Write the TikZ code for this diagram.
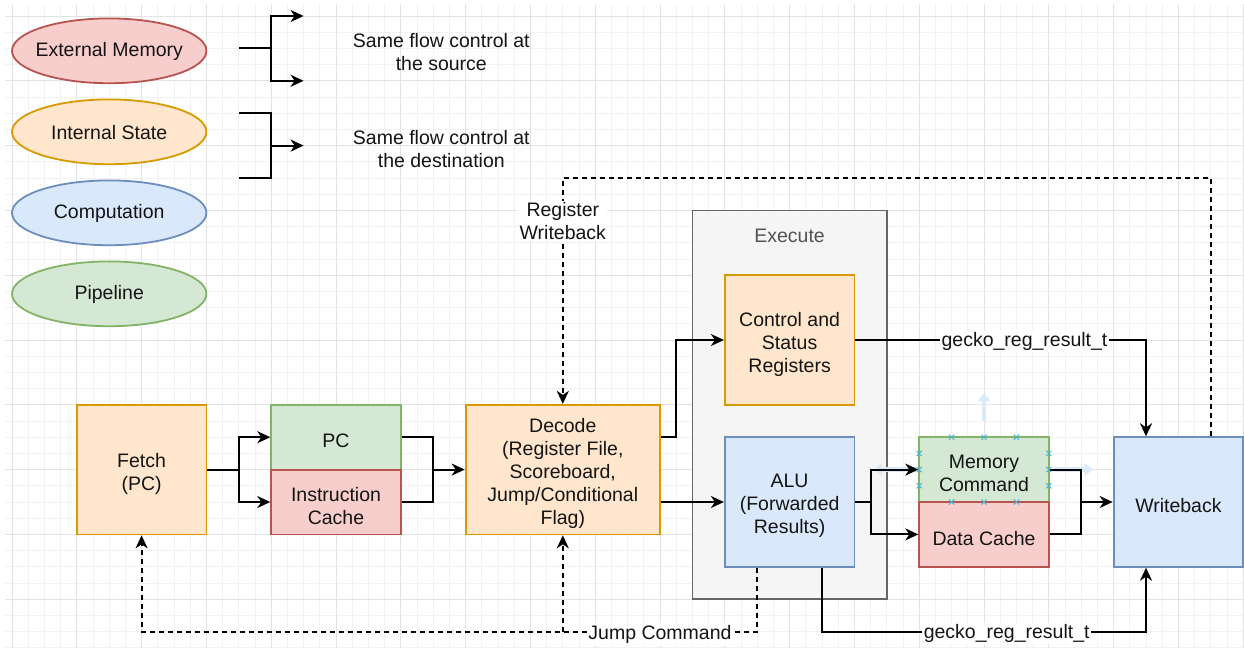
\documentclass[tikz,border=0pt]{standalone}
\usepackage{fontspec}
\setmainfont{Liberation Sans}
\usetikzlibrary{arrows.meta,shapes.geometric,calc}

\definecolor{redF}{HTML}{F8CECC}\definecolor{redD}{HTML}{B85450}
\definecolor{orgF}{HTML}{FFE6CC}\definecolor{orgD}{HTML}{D79B00}
\definecolor{bluF}{HTML}{DAE8FC}\definecolor{bluD}{HTML}{6C8EBF}
\definecolor{grnF}{HTML}{D5E8D4}\definecolor{grnD}{HTML}{82B366}
\definecolor{grayF}{HTML}{F5F5F5}\definecolor{grayD}{HTML}{666666}
\definecolor{ink}{HTML}{141414}
\definecolor{gridMinor}{HTML}{F2F2F2}
\definecolor{gridMajor}{HTML}{E3E3E3}
\definecolor{handle}{HTML}{45B4DC}
\definecolor{hover}{HTML}{D9EBF8}

\begin{document}
\begin{tikzpicture}[x=16.2pt,y=-16.2pt,
  txt/.style={font=\fontsize{19.5pt}{23pt}\selectfont, text=ink, align=center},
  box/.style={draw, line width=1.8pt, rectangle, inner sep=0pt},
  body/.style={label={[txt, yshift=-4pt]center:{#1}}},
  legtext/.style={label={[txt, yshift=-1pt]center:{#1}}},
  sq/.style={box, minimum width=129.6pt, minimum height=129.6pt},
  half/.style={box, minimum width=129.6pt, minimum height=64.8pt},
  legend/.style={ellipse, draw, line width=1.8pt, inner sep=0pt,
                 minimum width=194.4pt, minimum height=64.8pt},
  red/.style={fill=redF, draw=redD},
  org/.style={fill=orgF, draw=orgD},
  blu/.style={fill=bluF, draw=bluD},
  grn/.style={fill=grnF, draw=grnD},
  conn/.style={line width=2pt, draw=black},
  arr/.style={conn, -{Stealth[length=13pt,width=12pt,inset=4pt]}},
  dsh/.style={dash pattern=on 5pt off 4pt},
  tag/.style={txt, fill=white, inner sep=1.5pt},
]
% canvas and grid
\useasboundingbox (-0.7407,-0.9877) rectangle (76.049,38.951);
\fill[white] (-0.7407,-0.9877) rectangle (76.049,38.951);
\begin{scope}
  \clip (-0.43,-0.68) rectangle (76.049,38.951);
  \foreach \i in {-1,...,76} \draw[gridMinor, line width=0.9pt] (\i,-1) -- (\i,39);
  \foreach \j in {-1,...,39} \draw[gridMinor, line width=0.9pt] (-1,\j) -- (77,\j);
  \foreach \i in {0,4,...,76} \draw[gridMajor, line width=0.9pt] (\i,-1) -- (\i,39);
  \foreach \j in {0,4,...,36} \draw[gridMajor, line width=0.9pt] (-1,\j) -- (77,\j);
\end{scope}

% legend
\node[legend, red, legtext={External Memory}] (lgem) at (6,2.15)  {};
\node[legend, org, legtext={Internal State}]  (lgis) at (6,7.15)  {};
\node[legend, blu, legtext={Computation}]     (lgcp) at (6,12.15) {};
\node[legend, grn, legtext={Pipeline}]        (lgpl) at (6,17.15) {};

\coordinate (l1a) at (14,2);  \coordinate (l1m) at (16,2);
\coordinate (l1t) at (18,0);  \coordinate (l1b) at (18,4);
\draw[conn] (l1a) -- (l1m);
\draw[arr] (l1m) |- (l1t);
\draw[arr] (l1m) |- (l1b);
\node[txt] (srcnote) at (26.5,2.2) {Same flow control at\\the source};

\coordinate (l2a) at (14,6);  \coordinate (l2b) at (14,10);
\coordinate (l2m) at (16,8);  \coordinate (l2e) at (18,8);
\draw[conn] (l2a) -| (l2m);
\draw[conn] (l2b) -| (l2m);
\draw[arr] (l2m) -- (l2e);
\node[txt] (dstnote) at (26.5,8.2) {Same flow control at\\the destination};

% pipeline blocks
\node[box, fill=grayF, draw=grayD, minimum width=194.4pt, minimum height=388.8pt] (exec) at (48,24) {};
\node[txt, text=grayD!80!black] (execlbl) at (48,13.55) {Execute};

\node[sq, org, body={Fetch\\(PC)}] (fetch) at (8,28) {};
\node[half, grn, body={PC}] (pc) at (20,26) {};
\node[half, red, body={Instruction\\Cache}] (ic) at (20,30) {};
\node[box, org, minimum width=194.4pt, minimum height=129.6pt,
      body={Decode\\(Register File,\\Scoreboard,\\Jump/Conditional\\Flag)}] (decode) at (34,28) {};
\node[sq, org, body={Control and\\Status\\Registers}] (csr) at (48,20) {};
\node[sq, blu, body={ALU\\(Forwarded\\Results)}] (alu) at (48,30) {};
\node[half, grn, body={Memory\\Command}] (mc) at (60,28) {};
\node[half, red, body={Data Cache}] (dc) at (60,32) {};
\node[sq, blu, body={Writeback}] (wb) at (72,30) {};

% hover hints around the selected block
\draw[hover, line width=4.5pt, -{Triangle[length=8pt,width=13pt]}] (60,25.0) -- (60,23.3);
\draw[hover, line width=4.5pt, -{Triangle[length=8pt,width=13pt]}] (64.3,28) -- (66.7,28);
\draw[hover, line width=4.5pt, -{Triangle[length=8pt,width=13pt]}] (55.8,28) -- (53.2,28);

% connectors
\coordinate (f1) at (14,28);
\draw[conn] (fetch.east) -- (f1);
\draw[arr] (f1) |- (pc.west);
\draw[arr] (f1) |- (ic.west);

\coordinate (p1) at (26,28);
\draw[conn] (pc.east) -| (p1);
\draw[conn] (ic.east) -| (p1);
\draw[arr] (p1) -- (decode.west);

\coordinate (d1) at (41,26);
\draw[arr] (decode.east |- d1) -- (d1) |- (csr.west);
\draw[arr] (decode.east |- alu.west) -- (alu.west);

\coordinate (a1) at (53,30);
\draw[conn] (alu.east) -- (a1);
\draw[arr] (a1) |- (mc.west);
\draw[arr] (a1) |- (dc.west);

\coordinate (m1) at (66,30);
\draw[conn] (mc.east) -| (m1);
\draw[conn] (dc.east) -| (m1);
\draw[arr] (m1) -- (wb.west);

\coordinate (aluJ) at ($(alu.south)+(-2,0)$);
\coordinate (aluR) at ($(alu.south)+(2,0)$);
\coordinate (wbTL) at ($(wb.north)+(-2,0)$);
\coordinate (wbTR) at ($(wb.north)+(2,0)$);
\coordinate (wbBL) at ($(wb.south)+(-2,0)$);
\coordinate (brow) at (0,38);
\coordinate (wrow) at (0,10);

\draw[arr] (csr.east) -| (wbTL);
\draw[arr] (aluR) |- (wbBL |- brow) -- (wbBL);
\draw[arr, dsh] (aluJ) |- (fetch.south |- brow) -- (fetch.south);
\draw[arr, dsh] (decode.south |- brow) -- (decode.south);
\draw[arr, dsh] (wbTR) |- (decode.north |- wrow) -- (decode.north);

% selection handles on Memory Command
\foreach \hx/\hy in {58/26,60/26,62/26,58/30,60/30,62/30,56/27,56/28,56/29,64/27,64/28,64/29}
  \draw[handle, line width=0.9pt] (\hx,\hy) +(-2.6pt,-2.6pt) -- +(2.6pt,2.6pt) +(-2.6pt,2.6pt) -- +(2.6pt,-2.6pt);

% connector labels
\node[tag] (lblcsr) at (62.5,20.1) {gecko\_reg\_result\_t};
\node[tag] (lblalu) at (61.4,38.1) {gecko\_reg\_result\_t};
\node[tag] (lbljmp) at (40,38.15) {Jump Command};
\node[tag] (lblrw) at (34,12.65) {Register\\Writeback};
\end{tikzpicture}
\end{document}
